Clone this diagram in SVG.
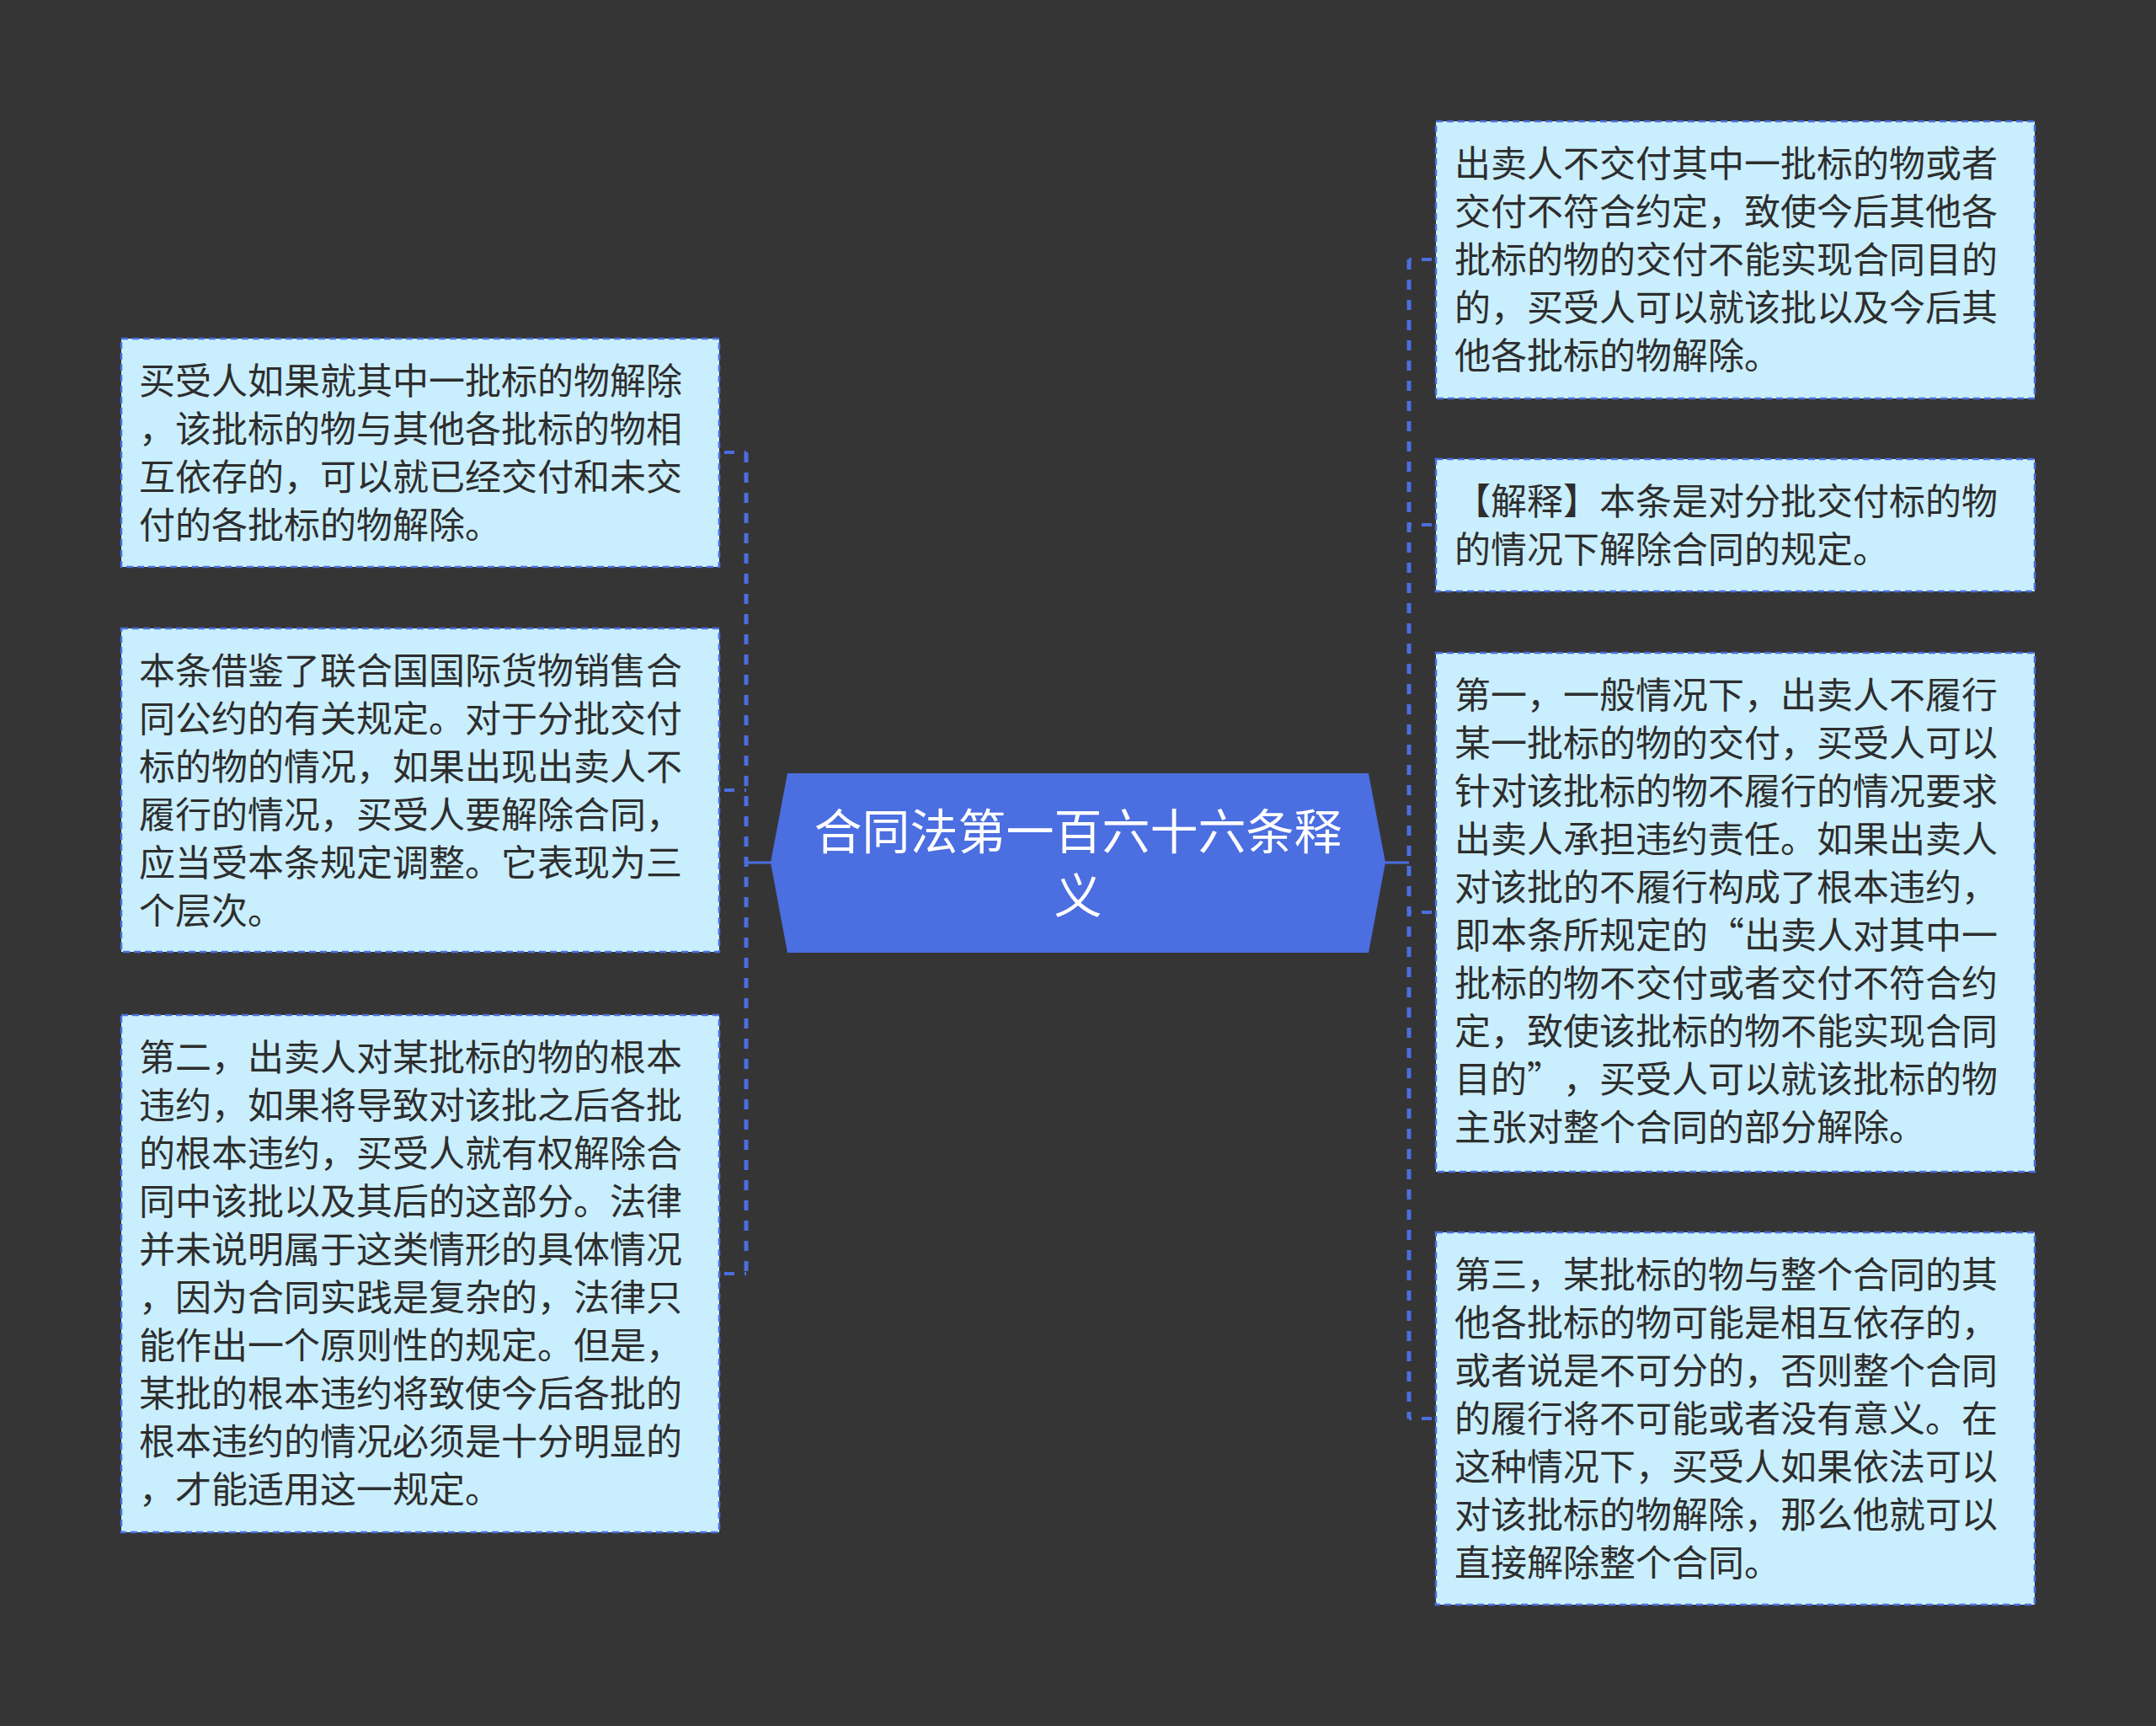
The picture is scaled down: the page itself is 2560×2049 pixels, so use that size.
<svg xmlns="http://www.w3.org/2000/svg" width="2560" height="2049" viewBox="0 0 2560 2049">
<style>
.box{fill:#c9eefd;stroke:#4a6fdf;stroke-width:2.5;stroke-dasharray:8 5}
.t{font-family:"Noto Sans CJK SC","Noto Sans",sans-serif;font-size:43px;fill:#2e2e2e;text-spacing-trim:space-all}
.ct{font-family:"Noto Sans CJK SC","Noto Sans",sans-serif;font-size:57px;fill:#ffffff;text-anchor:middle}
.bus{fill:none;stroke:#4b6ee0;stroke-width:5;stroke-dasharray:12 12}
.stub{fill:none;stroke:#4b6ee0;stroke-width:4;stroke-dasharray:12 12}
.solid{fill:none;stroke:#4b6ee0;stroke-width:3}
</style>
<rect x="0" y="0" width="2560" height="2049" fill="#363536"/>
<g id="connectors">
<path class="solid" d="M916 1024 H886"/>
<path class="bus" d="M886 537 V1512"/>
<path class="stub" stroke-dashoffset="18" d="M854 537 H886"/>
<path class="stub" stroke-dashoffset="18" d="M854 938 H886"/>
<path class="stub" stroke-dashoffset="18" d="M854 1512 H886"/>
<path class="solid" d="M1644 1024 H1673"/>
<path class="bus" d="M1673 308 V1684"/>
<path class="stub" stroke-dashoffset="19" d="M1705 308 H1673"/>
<path class="stub" stroke-dashoffset="19" d="M1705 623 H1673"/>
<path class="stub" stroke-dashoffset="19" d="M1705 1083 H1673"/>
<path class="stub" stroke-dashoffset="19" d="M1705 1684 H1673"/>
</g>
<g id="center">
<polygon points="915,1024 935,918 1625,918 1645,1024 1625,1131 935,1131" fill="#4b6ee0"/>
<text class="ct" x="1280" y="1008">合同法第一百六十六条释</text>
<text class="ct" x="1280" y="1084">义</text>
</g>
<g id="L1">
<rect class="box" x="144" y="402" width="710" height="271"/>
<text class="t" x="165" y="468">买受人如果就其中一批标的物解除</text>
<text class="t" x="165" y="525">，该批标的物与其他各批标的物相</text>
<text class="t" x="165" y="582">互依存的，可以就已经交付和未交</text>
<text class="t" x="165" y="639">付的各批标的物解除。</text>
</g>
<g id="L2">
<rect class="box" x="144" y="746" width="710" height="384"/>
<text class="t" x="165" y="812">本条借鉴了联合国国际货物销售合</text>
<text class="t" x="165" y="869">同公约的有关规定。对于分批交付</text>
<text class="t" x="165" y="926">标的物的情况，如果出现出卖人不</text>
<text class="t" x="165" y="983">履行的情况，买受人要解除合同，</text>
<text class="t" x="165" y="1040">应当受本条规定调整。它表现为三</text>
<text class="t" x="165" y="1097">个层次。</text>
</g>
<g id="L3">
<rect class="box" x="144" y="1205" width="710" height="614"/>
<text class="t" x="165" y="1271">第二，出卖人对某批标的物的根本</text>
<text class="t" x="165" y="1328">违约，如果将导致对该批之后各批</text>
<text class="t" x="165" y="1385">的根本违约，买受人就有权解除合</text>
<text class="t" x="165" y="1442">同中该批以及其后的这部分。法律</text>
<text class="t" x="165" y="1499">并未说明属于这类情形的具体情况</text>
<text class="t" x="165" y="1556">，因为合同实践是复杂的，法律只</text>
<text class="t" x="165" y="1613">能作出一个原则性的规定。但是，</text>
<text class="t" x="165" y="1670">某批的根本违约将致使今后各批的</text>
<text class="t" x="165" y="1727">根本违约的情况必须是十分明显的</text>
<text class="t" x="165" y="1784">，才能适用这一规定。</text>
</g>
<g id="R1">
<rect class="box" x="1705" y="144" width="711" height="329"/>
<text class="t" x="1727" y="210">出卖人不交付其中一批标的物或者</text>
<text class="t" x="1727" y="267">交付不符合约定，致使今后其他各</text>
<text class="t" x="1727" y="324">批标的物的交付不能实现合同目的</text>
<text class="t" x="1727" y="381">的，买受人可以就该批以及今后其</text>
<text class="t" x="1727" y="438">他各批标的物解除。</text>
</g>
<g id="R2">
<rect class="box" x="1705" y="545" width="711" height="157"/>
<text class="t" x="1727" y="611">【解释】本条是对分批交付标的物</text>
<text class="t" x="1727" y="668">的情况下解除合同的规定。</text>
</g>
<g id="R3">
<rect class="box" x="1705" y="775" width="711" height="616"/>
<text class="t" x="1727" y="841">第一，一般情况下，出卖人不履行</text>
<text class="t" x="1727" y="898">某一批标的物的交付，买受人可以</text>
<text class="t" x="1727" y="955">针对该批标的物不履行的情况要求</text>
<text class="t" x="1727" y="1012">出卖人承担违约责任。如果出卖人</text>
<text class="t" x="1727" y="1069">对该批的不履行构成了根本违约，</text>
<text class="t" x="1727" y="1126">即本条所规定的“出卖人对其中一</text>
<text class="t" x="1727" y="1183">批标的物不交付或者交付不符合约</text>
<text class="t" x="1727" y="1240">定，致使该批标的物不能实现合同</text>
<text class="t" x="1727" y="1297">目的”，买受人可以就该批标的物</text>
<text class="t" x="1727" y="1354">主张对整个合同的部分解除。</text>
</g>
<g id="R4">
<rect class="box" x="1705" y="1463" width="711" height="442"/>
<text class="t" x="1727" y="1529">第三，某批标的物与整个合同的其</text>
<text class="t" x="1727" y="1586">他各批标的物可能是相互依存的，</text>
<text class="t" x="1727" y="1643">或者说是不可分的，否则整个合同</text>
<text class="t" x="1727" y="1700">的履行将不可能或者没有意义。在</text>
<text class="t" x="1727" y="1757">这种情况下，买受人如果依法可以</text>
<text class="t" x="1727" y="1814">对该批标的物解除，那么他就可以</text>
<text class="t" x="1727" y="1871">直接解除整个合同。</text>
</g>
</svg>
